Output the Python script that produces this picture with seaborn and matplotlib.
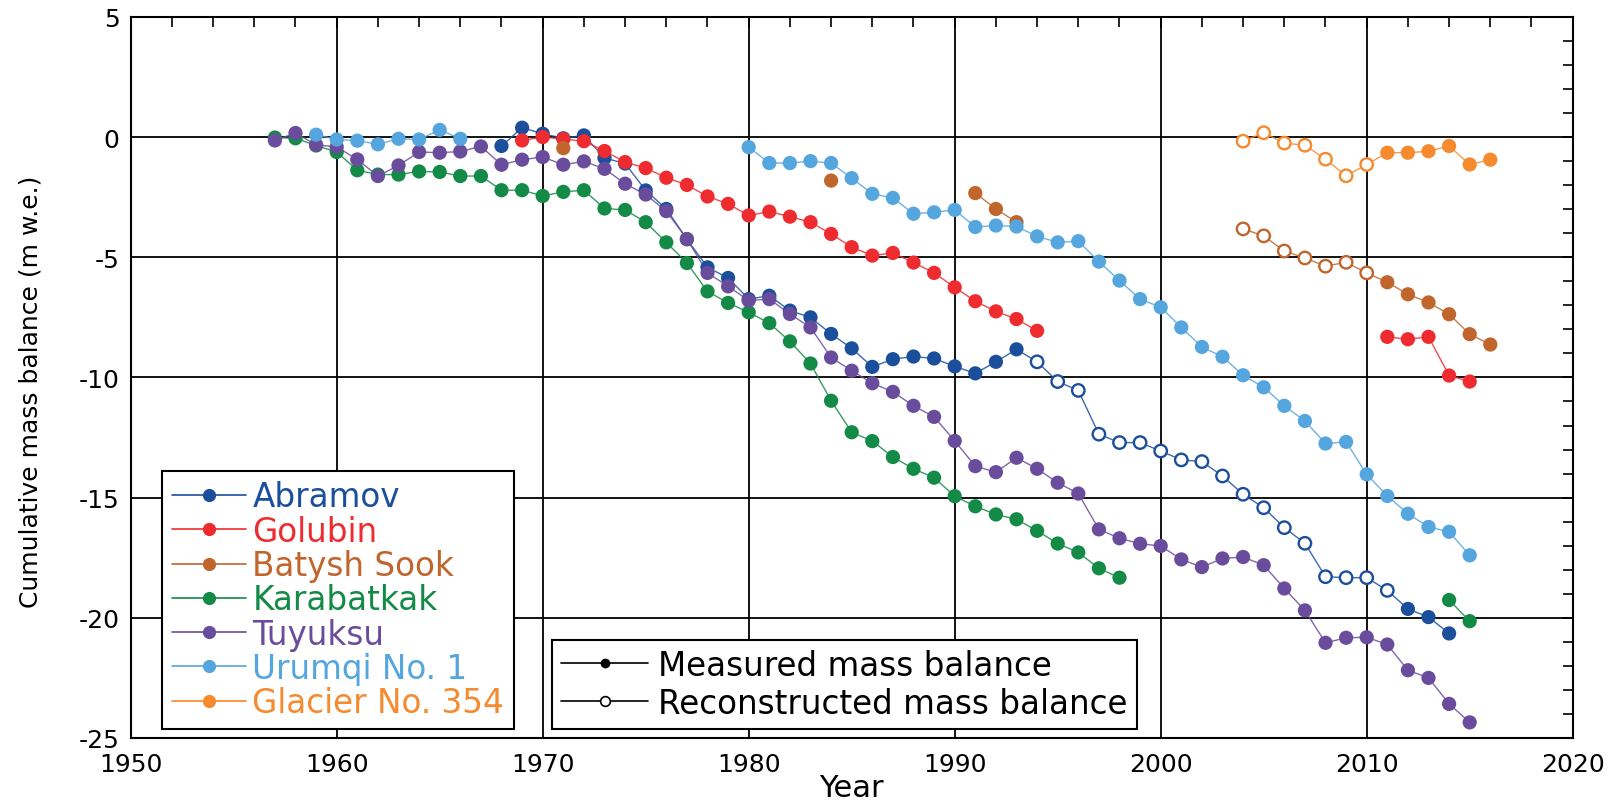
import numpy as np
import pandas as pd
import matplotlib
matplotlib.use("Agg")
import matplotlib.pyplot as plt
from matplotlib.lines import Line2D
from matplotlib.ticker import MultipleLocator
import seaborn as sns

# ---------------- data ----------------
glaciers = ["Abramov", "Golubin", "Batysh Sook", "Karabatkak",
            "Tuyuksu", "Urumqi No. 1", "Glacier No. 354"]
colors = ["#1b4f9c", "#ee2b2f", "#c0652b", "#138a45",
          "#6a4c9c", "#55a5de", "#f58a2e"]

abramov_meas_years = list(range(1968, 1994)) + [2012, 2013, 2014]
abramov_meas = [-0.37, 0.39, 0.14, -0.05, 0.07, -0.87, -1.10, -2.22, -2.99, -4.25,
                -5.42, -5.86, -6.74, -6.60, -7.22, -7.50, -8.19, -8.79, -9.56, -9.24,
                -9.13, -9.21, -9.54, -9.83, -9.35, -8.83,
                -19.63, -19.97, -20.65]
abramov_rec_years = list(range(1994, 2012))
abramov_rec = [-9.35, -10.17, -10.54, -12.36, -12.71, -12.71, -13.06, -13.43, -13.50,
               -14.10, -14.86, -15.42, -16.25, -16.90, -18.29, -18.33, -18.33, -18.86]

golubin_meas_years = list(range(1969, 1995)) + list(range(2011, 2016))
golubin_meas = [-0.14, 0.00, -0.08, -0.17, -0.58, -1.04, -1.29, -1.69, -1.99, -2.47,
                -2.78, -3.26, -3.10, -3.31, -3.54, -4.03, -4.58, -4.93, -4.82, -5.22,
                -5.65, -6.25, -6.83, -7.25, -7.57, -8.06,
                -8.31, -8.41, -8.31, -9.92, -10.17]

batysh_meas_years = [1971, 1984, 1991, 1992, 1993] + list(range(2011, 2017))
batysh_meas = [-0.46, -1.81, -2.33, -2.99, -3.54,
               -6.04, -6.54, -6.88, -7.37, -8.20, -8.63]
batysh_rec_years = list(range(2004, 2011))
batysh_rec = [-3.82, -4.11, -4.74, -5.03, -5.37, -5.21, -5.65]

karabatkak_meas_years = list(range(1957, 1999)) + [2014, 2015]
karabatkak_meas = [-0.02, -0.05, -0.35, -0.62, -1.38, -1.56, -1.56, -1.43, -1.45, -1.62,
                   -1.62, -2.21, -2.21, -2.45, -2.28, -2.21, -2.97, -3.03, -3.54, -4.38,
                   -5.24, -6.42, -6.90, -7.29, -7.74, -8.50, -9.42, -10.97, -12.28, -12.65,
                   -13.31, -13.80, -14.17, -14.94, -15.36, -15.70, -15.90, -16.38, -16.91, -17.28,
                   -17.94, -18.33,
                   -19.26, -20.14]

tuyuksu_meas_years = list(range(1957, 2016))
tuyuksu_meas = [-0.14, 0.17, -0.32, -0.41, -0.93, -1.62, -1.18, -0.62, -0.65, -0.60,
                -0.39, -1.15, -0.94, -0.83, -1.15, -1.01, -1.32, -1.94, -2.39, -3.08,
                -4.24, -5.65, -6.21, -6.80, -6.74, -7.36, -7.92, -9.17, -9.72, -10.24,
                -10.60, -11.18, -11.64, -12.64, -13.69, -13.94, -13.34, -13.80, -14.38, -14.83,
                -16.32, -16.69, -16.92, -17.01, -17.57, -17.89, -17.53, -17.47, -17.81, -18.78,
                -19.69, -21.04, -20.83, -20.81, -21.11, -22.18, -22.50, -23.58, -24.35]

urumqi_meas_years = list(range(1959, 1967)) + list(range(1980, 2016))
urumqi_meas = [0.10, -0.10, -0.15, -0.30, -0.07, -0.10, 0.30, -0.07,
               -0.42, -1.08, -1.08, -1.00, -1.08, -1.71, -2.36, -2.53, -3.19, -3.13,
               -3.03, -3.74, -3.68, -3.72, -4.13, -4.38, -4.33, -5.18, -5.97, -6.74,
               -7.08, -7.92, -8.73, -9.14, -9.91, -10.41, -11.18, -11.81, -12.75, -12.68,
               -14.03, -14.93, -15.67, -16.22, -16.42, -17.40]

g354_meas_years = list(range(2011, 2017))
g354_meas = [-0.65, -0.65, -0.59, -0.37, -1.14, -0.94]
g354_rec_years = list(range(2004, 2011))
g354_rec = [-0.17, 0.18, -0.25, -0.34, -0.92, -1.61, -1.14]

type_labels = ["Measured mass balance", "Reconstructed mass balance"]

# ---------------- build table ----------------
series = {
    "Karabatkak": (karabatkak_meas_years, karabatkak_meas, [], []),
    "Abramov": (abramov_meas_years, abramov_meas, abramov_rec_years, abramov_rec),
    "Golubin": (golubin_meas_years, golubin_meas, [], []),
    "Batysh Sook": (batysh_meas_years, batysh_meas, batysh_rec_years, batysh_rec),
    "Tuyuksu": (tuyuksu_meas_years, tuyuksu_meas, [], []),
    "Urumqi No. 1": (urumqi_meas_years, urumqi_meas, [], []),
    "Glacier No. 354": (g354_meas_years, g354_meas, g354_rec_years, g354_rec),
}
draw_order = list(series.keys())
palette = dict(zip(glaciers, colors))

frames = []
for name, (my, mv, ry, rv) in series.items():
    d = pd.concat([
        pd.DataFrame({"Year": my, "Balance": mv, "Kind": "meas"}),
        pd.DataFrame({"Year": ry, "Balance": rv, "Kind": "rec"}),
    ]).sort_values("Year")
    d["Glacier"] = name
    seg = (d["Year"].diff().fillna(1) > 1).cumsum()
    d["Unit"] = name + "_" + seg.astype(str)
    frames.append(d)
df = pd.concat(frames, ignore_index=True)

# ---------------- figure ----------------
sns.set_style("white")
plt.rcParams["font.family"] = ["DejaVu Sans"]
plt.rcParams["axes.unicode_minus"] = False
for k in ["text.color", "axes.labelcolor", "xtick.color", "ytick.color",
          "xtick.labelcolor", "ytick.labelcolor"]:
    plt.rcParams[k] = "black"

fig = plt.figure(figsize=(16.1, 8.04), dpi=100)
ax = fig.add_axes([130.7 / 1610, 1 - 739 / 804, (1572.7 - 130.7) / 1610, (739 - 17.9) / 804])

sns.lineplot(data=df, x="Year", y="Balance", hue="Glacier", units="Unit",
             estimator=None, palette=palette, hue_order=draw_order,
             lw=1.0, alpha=0.85, legend=False, sort=True, ax=ax, zorder=2)

meas = df[df["Kind"] == "meas"]
rec = df[df["Kind"] == "rec"]
sns.scatterplot(data=meas, x="Year", y="Balance", hue="Glacier", palette=palette,
                hue_order=draw_order, s=105, linewidth=0, legend=False, ax=ax, zorder=3)
sns.scatterplot(data=rec, x="Year", y="Balance", hue="Glacier", palette=palette,
                hue_order=draw_order, s=80, legend=False, ax=ax, zorder=3)
coll = ax.collections[-1]
fc = coll.get_facecolors()
coll.set_edgecolors(fc)
coll.set_facecolors("white")
coll.set_linewidths(1.7)

ax.set_xlim(1950, 2020)
ax.set_ylim(-25, 5)
ax.xaxis.set_major_locator(MultipleLocator(10))
ax.xaxis.set_minor_locator(MultipleLocator(2))
ax.yaxis.set_major_locator(MultipleLocator(5))
ax.yaxis.set_minor_locator(MultipleLocator(1))
ax.grid(True, which="major", color="black", lw=1.3, zorder=1)
ax.set_axisbelow(True)
ax.tick_params(which="both", direction="in", top=True, right=True,
               color="black", width=1.2)
ax.tick_params(which="major", length=8, labelsize=18, pad=8)
ax.tick_params(which="minor", length=7)
ax.tick_params(axis="x", which="major", pad=10)
for sp in ax.spines.values():
    sp.set_color("black")
    sp.set_linewidth(1.5)

ax.set_xlabel("Year", fontsize=22)
ax.xaxis.set_label_coords(0.5, -0.049)
ax.xaxis.label.set_va("top")
ax.set_ylabel("Cumulative mass balance (m w.e.)", fontsize=18)
ax.yaxis.set_label_coords(-0.061, 0.482)

# legend 1 (glaciers)
handles1 = [Line2D([], [], color=c, lw=1.2, marker="o", markersize=9.5,
                   markeredgewidth=0) for c in colors]
leg1 = ax.legend(handles1, glaciers, loc="lower left",
                 bbox_to_anchor=(162 / 1610, 1 - 730 / 804),
                 bbox_transform=fig.transFigure, borderaxespad=0,
                 frameon=True, fancybox=False, edgecolor="black", framealpha=1,
                 prop=dict(family="DejaVu Sans", size=23.5),
                 handlelength=2.27, handletextpad=0.2, labelspacing=0.04,
                 borderpad=0.3)
leg1.get_frame().set_linewidth(1.5)
for t, c in zip(leg1.get_texts(), colors):
    t.set_color(c)
ax.add_artist(leg1)

# legend 2 (measured / reconstructed)
handles2 = [Line2D([], [], color="black", lw=1.2, marker="o", markersize=7,
                   markerfacecolor="black", markeredgewidth=0),
            Line2D([], [], color="black", lw=1.2, marker="o", markersize=7,
                   markerfacecolor="white", markeredgecolor="black",
                   markeredgewidth=1.2)]
leg2 = ax.legend(handles2, type_labels, loc="lower left",
                 bbox_to_anchor=(552 / 1610, 1 - 730 / 804),
                 bbox_transform=fig.transFigure, borderaxespad=0,
                 frameon=True, fancybox=False, edgecolor="black", framealpha=1,
                 prop=dict(family="DejaVu Sans", size=23.5),
                 handlelength=2.67, handletextpad=0.3, labelspacing=0.16,
                 borderpad=0.28)
leg2.get_frame().set_linewidth(1.5)

fig.savefig("out.png", dpi=100)
